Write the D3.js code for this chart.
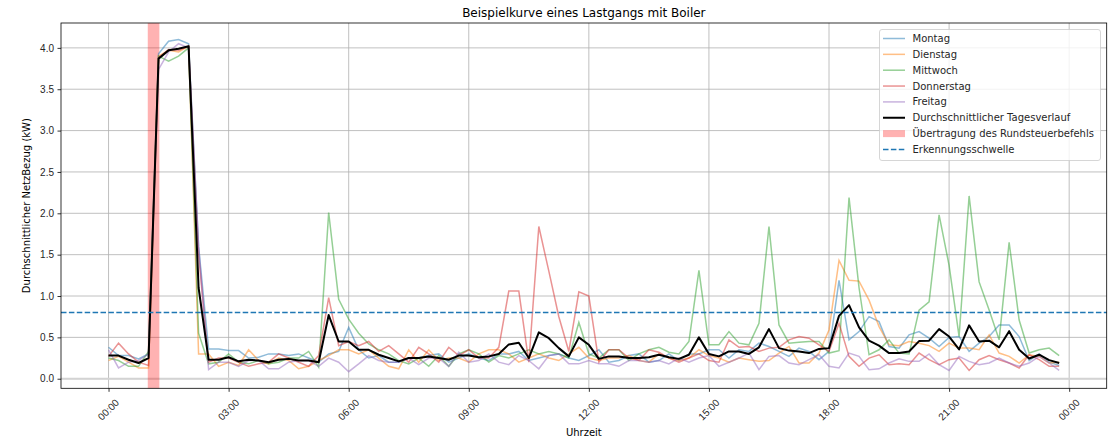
<!DOCTYPE html>
<html>
  <head>
    <meta charset="utf-8">
    <title>Beispielkurve eines Lastgangs mit Boiler</title>
    <script src="https://d3js.org/d3.v7.min.js"></script>
    <style>
      body { margin: 0; background: #fff; }
      svg { font-family: "DejaVu Sans", sans-serif; }
    </style>
  </head>
  <body>
    <div id="chart"></div>
    <script>
      // load profile, one value every 15 minutes (00:00 .. 23:45), kW
      montag = [
        .38,.28,.28,.24,.30,3.93,4.08,4.10,4.05,1.60,
        .36,.36,.34,.34,.25,.26,.30,.30,.28,.30,
        .25,.20,.30,.33,.62,.35,.25,.28,.20,.20,
        .25,.25,.28,.30,.20,.25,.30,.25,.22,.30,
        .30,.33,.22,.25,.28,.30,.25,.22,.28,.35,
        .20,.22,.28,.30,.20,.22,.30,.22,.30,.30,
        .35,.35,.25,.35,.33,.43,.39,.33,.27,.37,
        .33,.23,.33,1.19,.47,.57,.75,.69,.39,.37,
        .53,.57,.49,.39,.50,.51,.33,.43,.51,.65,
        .65,.51,.22,.30,.20,.16];
      dienstag = [
        .22,.27,.20,.13,.13,3.90,3.97,3.95,4.02,.30,
        .30,.15,.20,.16,.35,.22,.18,.25,.22,.12,
        .15,.22,.28,.35,.35,.30,.35,.25,.15,.12,
        .35,.20,.35,.22,.25,.25,.20,.30,.35,.35,
        .30,.20,.25,.30,.25,.22,.30,.38,.25,.22,
        .25,.25,.28,.22,.20,.30,.25,.22,.25,.35,
        .28,.25,.20,.25,.23,.21,.22,.31,.39,.19,
        .19,.31,.59,1.43,1.19,1.18,.95,.63,.41,.40,
        .45,.43,.40,.33,.43,.37,.37,.35,.53,.31,
        .27,.19,.29,.27,.19,.20];
      mittwoch = [
        .25,.22,.15,.15,.33,3.90,3.84,3.90,4.00,.55,
        .18,.20,.30,.20,.18,.22,.18,.20,.25,.25,
        .33,.14,2.01,.96,.72,.55,.42,.35,.30,.22,
        .18,.25,.15,.28,.15,.30,.35,.30,.20,.28,
        .25,.30,.35,.30,.33,.30,.25,.68,.30,.25,
        .35,.35,.22,.30,.35,.38,.32,.30,.45,1.31,
        .41,.41,.57,.43,.41,.67,1.84,.65,.43,.44,
        .45,.45,.31,.34,2.19,1.10,.29,.35,.47,.31,
        .30,.83,.93,1.98,1.37,.51,2.21,1.17,.83,.47,
        1.65,.71,.31,.35,.37,.28];
      donnerstag = [
        .27,.43,.30,.20,.16,3.88,3.98,3.97,4.02,1.50,
        .20,.25,.25,.20,.15,.18,.20,.30,.25,.20,
        .15,.28,.98,.40,.45,.40,.45,.33,.40,.30,
        .20,.38,.30,.20,.38,.28,.35,.25,.25,.38,
        1.06,1.06,.20,1.84,1.30,.75,.33,1.05,1.00,.20,
        .35,.35,.25,.22,.35,.32,.25,.20,.25,.30,
        .22,.20,.47,.38,.39,.33,.37,.38,.47,.51,
        .49,.41,.33,.67,.27,.15,.25,.29,.17,.18,
        .17,.31,.23,.17,.23,.25,.10,.23,.28,.23,
        .19,.13,.29,.23,.15,.15];
      freitag = [
        .35,.13,.20,.22,.30,3.74,3.95,4.05,4.00,1.60,
        .11,.20,.20,.15,.22,.22,.12,.12,.20,.22,
        .22,.15,.25,.20,.085,.18,.28,.22,.20,.20,
        .25,.17,.25,.25,.15,.32,.20,.22,.30,.20,
        .17,.28,.22,.12,.28,.30,.18,.18,.22,.18,
        .18,.15,.22,.22,.20,.22,.18,.25,.20,.25,
        .28,.15,.20,.25,.31,.11,.27,.28,.19,.17,
        .23,.29,.15,.13,.31,.27,.11,.12,.19,.24,
        .21,.21,.30,.17,.10,.27,.21,.17,.19,.25,
        .19,.15,.19,.27,.19,.10];
      durchschnitt = [
        .28,.28,.23,.19,.25,3.87,3.97,3.99,4.02,1.10,
        .23,.23,.26,.21,.23,.22,.20,.23,.24,.22,
        .22,.20,.77,.45,.45,.35,.35,.29,.25,.21,
        .25,.25,.27,.25,.23,.28,.28,.26,.27,.30,
        .415,.435,.25,.56,.49,.37,.27,.50,.41,.24,
        .27,.27,.25,.25,.26,.29,.26,.24,.29,.50,
        .30,.27,.33,.33,.30,.38,.60,.37,.34,.33,
        .31,.36,.37,.76,.89,.62,.46,.40,.31,.31,
        .33,.455,.46,.60,.51,.355,.645,.45,.46,.38,
        .575,.35,.245,.29,.225,.19];
      dayNames = ["Montag", "Dienstag", "Mittwoch", "Donnerstag", "Freitag"];
      dayColors = ["#1f77b4", "#ff7f0e", "#2ca02c", "#d62728", "#9467bd"];
      days = [montag, dienstag, mittwoch, donnerstag, freitag];
      signalSpan = [0.98, 1.27];   // hours, ripple control signal
      threshold = 0.8;             // kW
      yTicks = [0, 0.5, 1, 1.5, 2, 2.5, 3, 3.5, 4];

      // timestamps for the quarter hours
      day0 = Date.UTC(2024, 0, 1);
      times = durchschnitt.map(function(d, i) { return new Date(day0 + i * 15 * 60000); });
      hour = function(h) { return new Date(day0 + h * 3600000); };

      width = 1110;
      height = 439;
      margin = { top: 23, right: 3.3, bottom: 50.7, left: 61 };

      svg = d3.select("#chart")
        .append("svg")
          .attr("width", width)
          .attr("height", height);

      // scales with matplotlib style 5% padding
      xPad = (times[times.length - 1] - times[0]) * 0.05;
      x = d3.scaleUtc()
        .domain([new Date(+times[0] - xPad), new Date(+times[times.length - 1] + xPad)])
        .range([margin.left, width - margin.right]);
      allValues = d3.merge(days.concat([durchschnitt]));
      ext = d3.extent(allValues);
      yPad = (ext[1] - ext[0]) * 0.05;
      y = d3.scaleLinear()
        .domain([ext[0] - yPad, ext[1] + yPad])
        .range([height - margin.bottom, margin.top]);

      xTicks = d3.range(0, 25, 3).map(hour);

      // grid
      grid = svg.append("g").attr("class", "grid");
      grid.selectAll(".gx")
          .data(xTicks)
        .enter().append("line")
          .attr("x1", x).attr("x2", x)
          .attr("y1", margin.top).attr("y2", height - margin.bottom)
          .attr("stroke", "#b0b0b0")
          .attr("stroke-width", 0.8);
      grid.selectAll(".gy")
          .data(yTicks)
        .enter().append("line")
          .attr("x1", margin.left).attr("x2", width - margin.right)
          .attr("y1", y).attr("y2", y)
          .attr("stroke", "#b0b0b0")
          .attr("stroke-width", 0.8);

      // zero line
      svg.append("line")
        .attr("x1", margin.left).attr("x2", width - margin.right)
        .attr("y1", y(0)).attr("y2", y(0))
        .attr("stroke", "#d3d3d3")
        .attr("stroke-width", 2);

      // signal span
      svg.append("rect")
        .attr("x", x(hour(signalSpan[0])))
        .attr("width", x(hour(signalSpan[1])) - x(hour(signalSpan[0])))
        .attr("y", margin.top)
        .attr("height", height - margin.bottom - margin.top)
        .attr("fill", "red")
        .attr("fill-opacity", 0.3);

      line = d3.line()
        .x(function(d, i) { return x(times[i]); })
        .y(function(d) { return y(d); });

      // daily curves
      svg.selectAll(".day")
          .data(days)
        .enter().append("path")
          .attr("d", line)
          .attr("fill", "none")
          .attr("stroke", function(d, i) { return dayColors[i]; })
          .attr("stroke-opacity", 0.5)
          .attr("stroke-width", 1.5);

      // average
      svg.append("path")
        .attr("d", line(durchschnitt))
        .attr("fill", "none")
        .attr("stroke", "black")
        .attr("stroke-width", 2)
        .attr("stroke-linejoin", "round");

      // detection threshold
      svg.append("line")
        .attr("x1", margin.left).attr("x2", width - margin.right)
        .attr("y1", y(threshold)).attr("y2", y(threshold))
        .attr("stroke", "#1f77b4")
        .attr("stroke-width", 1.5)
        .attr("stroke-dasharray", "5.5,2.4");

      // frame
      svg.append("rect")
        .attr("x", margin.left).attr("y", margin.top)
        .attr("width", width - margin.right - margin.left)
        .attr("height", height - margin.bottom - margin.top)
        .attr("fill", "none")
        .attr("stroke", "#000")
        .attr("stroke-width", 0.8);

      // axes
      xAxis = svg.append("g")
        .attr("transform", "translate(0," + (height - margin.bottom) + ")")
        .call(d3.axisBottom(x).tickValues(xTicks).tickFormat(d3.utcFormat("%H:%M")).tickSize(3.5).tickPadding(3.5));
      xAxis.select(".domain").remove();
      xAxis.selectAll("text")
        .attr("font-size", 10)
        .attr("fill", "#262626")
        .attr("text-anchor", "middle")
        .attr("dy", null)
        .attr("y", 0)
        .attr("dominant-baseline", "middle")
        .attr("transform", "translate(0,22) rotate(-45)");
      yAxis = svg.append("g")
        .attr("transform", "translate(" + margin.left + ",0)")
        .call(d3.axisLeft(y).tickValues(yTicks).tickFormat(d3.format(".1f")).tickSize(3.5).tickPadding(3.5));
      yAxis.select(".domain").remove();
      yAxis.selectAll("text")
        .attr("font-size", 10)
        .attr("fill", "#262626");
      svg.selectAll(".tick line").attr("stroke", "#000").attr("stroke-width", 0.8);

      // titles
      cx = (margin.left + width - margin.right) / 2;
      svg.append("text")
        .attr("x", cx).attr("y", 17)
        .attr("text-anchor", "middle")
        .attr("font-size", 12)
        .text("Beispielkurve eines Lastgangs mit Boiler");
      svg.append("text")
        .attr("x", cx).attr("y", 436)
        .attr("text-anchor", "middle")
        .attr("font-size", 10)
        .text("Uhrzeit");
      svg.append("text")
        .attr("transform", "translate(30," + ((margin.top + height - margin.bottom) / 2) + ") rotate(-90)")
        .attr("text-anchor", "middle")
        .attr("font-size", 10)
        .text("Durchschnittlicher NetzBezug (kW)");

      // legend
      legendItems = dayNames.map(function(n, i) { return { label: n, type: "line", color: dayColors[i], opacity: 0.5, width: 1.5 }; })
        .concat([
          { label: "Durchschnittlicher Tagesverlauf", type: "line", color: "black", opacity: 1, width: 2 },
          { label: "Übertragung des Rundsteuerbefehls", type: "patch", color: "red", opacity: 0.3 },
          { label: "Erkennungsschwelle", type: "dash", color: "#1f77b4", opacity: 1, width: 1.5 }
        ]);
      legend = svg.append("g").attr("transform", "translate(879.5,29.5)");
      legend.append("rect")
        .attr("width", 221).attr("height", 131)
        .attr("rx", 2.5)
        .attr("fill", "white").attr("fill-opacity", 0.8)
        .attr("stroke", "#cccccc").attr("stroke-width", 0.8);
      rows = legend.selectAll(".item")
          .data(legendItems)
        .enter().append("g")
          .attr("transform", function(d, i) { return "translate(0," + (9 + i * 15.85) + ")"; });
      rows.filter(function(d) { return d.type != "patch"; })
        .append("line")
          .attr("x1", 3.5).attr("x2", 25.5)
          .attr("stroke", function(d) { return d.color; })
          .attr("stroke-opacity", function(d) { return d.opacity; })
          .attr("stroke-width", function(d) { return d.width; })
          .attr("stroke-dasharray", function(d) { return d.type == "dash" ? "5.5,2.4" : null; });
      rows.filter(function(d) { return d.type == "patch"; })
        .append("rect")
          .attr("x", 3.5).attr("y", -3.5)
          .attr("width", 22).attr("height", 7)
          .attr("fill", function(d) { return d.color; })
          .attr("fill-opacity", function(d) { return d.opacity; });
      rows.append("text")
        .attr("x", 33)
        .attr("dy", "0.35em")
        .attr("font-size", 10)
        .attr("fill", "#262626")
        .text(function(d) { return d.label; });
    </script>
  </body>
</html>
